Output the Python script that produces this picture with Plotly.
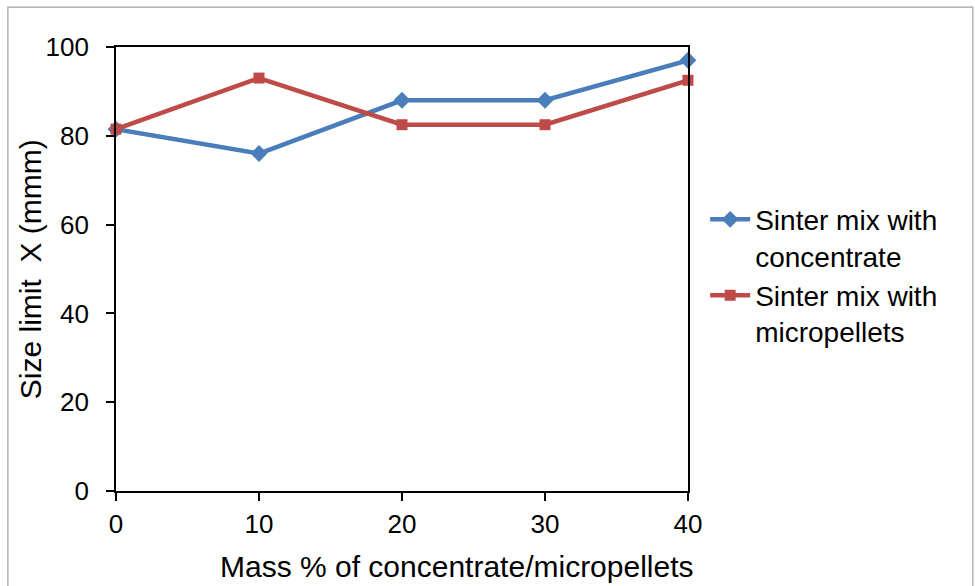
import plotly.graph_objects as go

mass_pct = [0, 10, 20, 30, 40]
concentrate = [81.5, 76.0, 88.0, 88.0, 97.0]
micropellets = [81.5, 93.0, 82.5, 82.5, 92.5]
y_ticks = [0, 20, 40, 60, 80, 100]
x_ticks = [0, 10, 20, 30, 40]

FONT = "Liberation Sans, Arial, sans-serif"

fig = go.Figure()
fig.add_trace(go.Scatter(
    x=mass_pct, y=concentrate, mode="lines+markers",
    name="Sinter mix with<br>concentrate",
    line=dict(color="#4A7EBB", width=4.5),
    marker=dict(symbol="diamond", size=13, color="#4A7EBB"),
    cliponaxis=False,
))
fig.add_trace(go.Scatter(
    x=mass_pct, y=micropellets, mode="lines+markers",
    name="Sinter mix with<br>micropellets",
    line=dict(color="#BE4B48", width=4.5),
    marker=dict(symbol="square", size=11, color="#BE4B48"),
    cliponaxis=False,
))

fig.update_layout(
    width=975, height=586,
    margin=dict(l=116, r=287, t=47, b=95),
    paper_bgcolor="white", plot_bgcolor="white",
    font=dict(family=FONT, size=26, color="black"),
    showlegend=True,
    legend=dict(
        x=1.03, y=0.485, xanchor="left", yanchor="middle",
        font=dict(family=FONT, size=28, color="black"),
        bgcolor="rgba(0,0,0,0)", tracegroupgap=8,
        itemwidth=40, valign="top",
    ),
    xaxis=dict(
        range=[0, 40], tickvals=x_ticks, ticks="outside", ticklen=8,
        tickcolor="black", tickwidth=1.5,
        showline=True, linecolor="black", linewidth=1.8, mirror=True,
        showgrid=False, zeroline=False, automargin=False,
        tickfont=dict(family=FONT, size=26),
        ticklabelstandoff=1,
    ),
    yaxis=dict(
        range=[0, 100], tickvals=y_ticks, ticks="outside", ticklen=8,
        tickcolor="black", tickwidth=1.5,
        showline=True, linecolor="black", linewidth=1.8, mirror=True,
        showgrid=False, zeroline=False, automargin=False,
        tickfont=dict(family=FONT, size=26),
        ticklabelstandoff=12,
    ),
    annotations=[
        dict(
            text="Mass % of concentrate/micropellets",
            xref="paper", yref="paper", x=0.596, y=-0.17,
            xanchor="center", yanchor="middle", showarrow=False,
            font=dict(family=FONT, size=30, color="black"),
        ),
        dict(
            text="Size limit  X (mmm)", textangle=-90,
            xref="paper", yref="paper", x=-0.150, y=0.5,
            xanchor="center", yanchor="middle", showarrow=False,
            font=dict(family=FONT, size=30, color="black"),
        ),
    ],
    shapes=[dict(
        type="rect", xref="paper", yref="paper",
        x0=-0.189, x1=1.498, y0=-0.35, y1=1.09,
        line=dict(color="#A0A0A0", width=1.2), fillcolor="rgba(0,0,0,0)",
        layer="below",
    )],
)

fig.write_html("out.html")
